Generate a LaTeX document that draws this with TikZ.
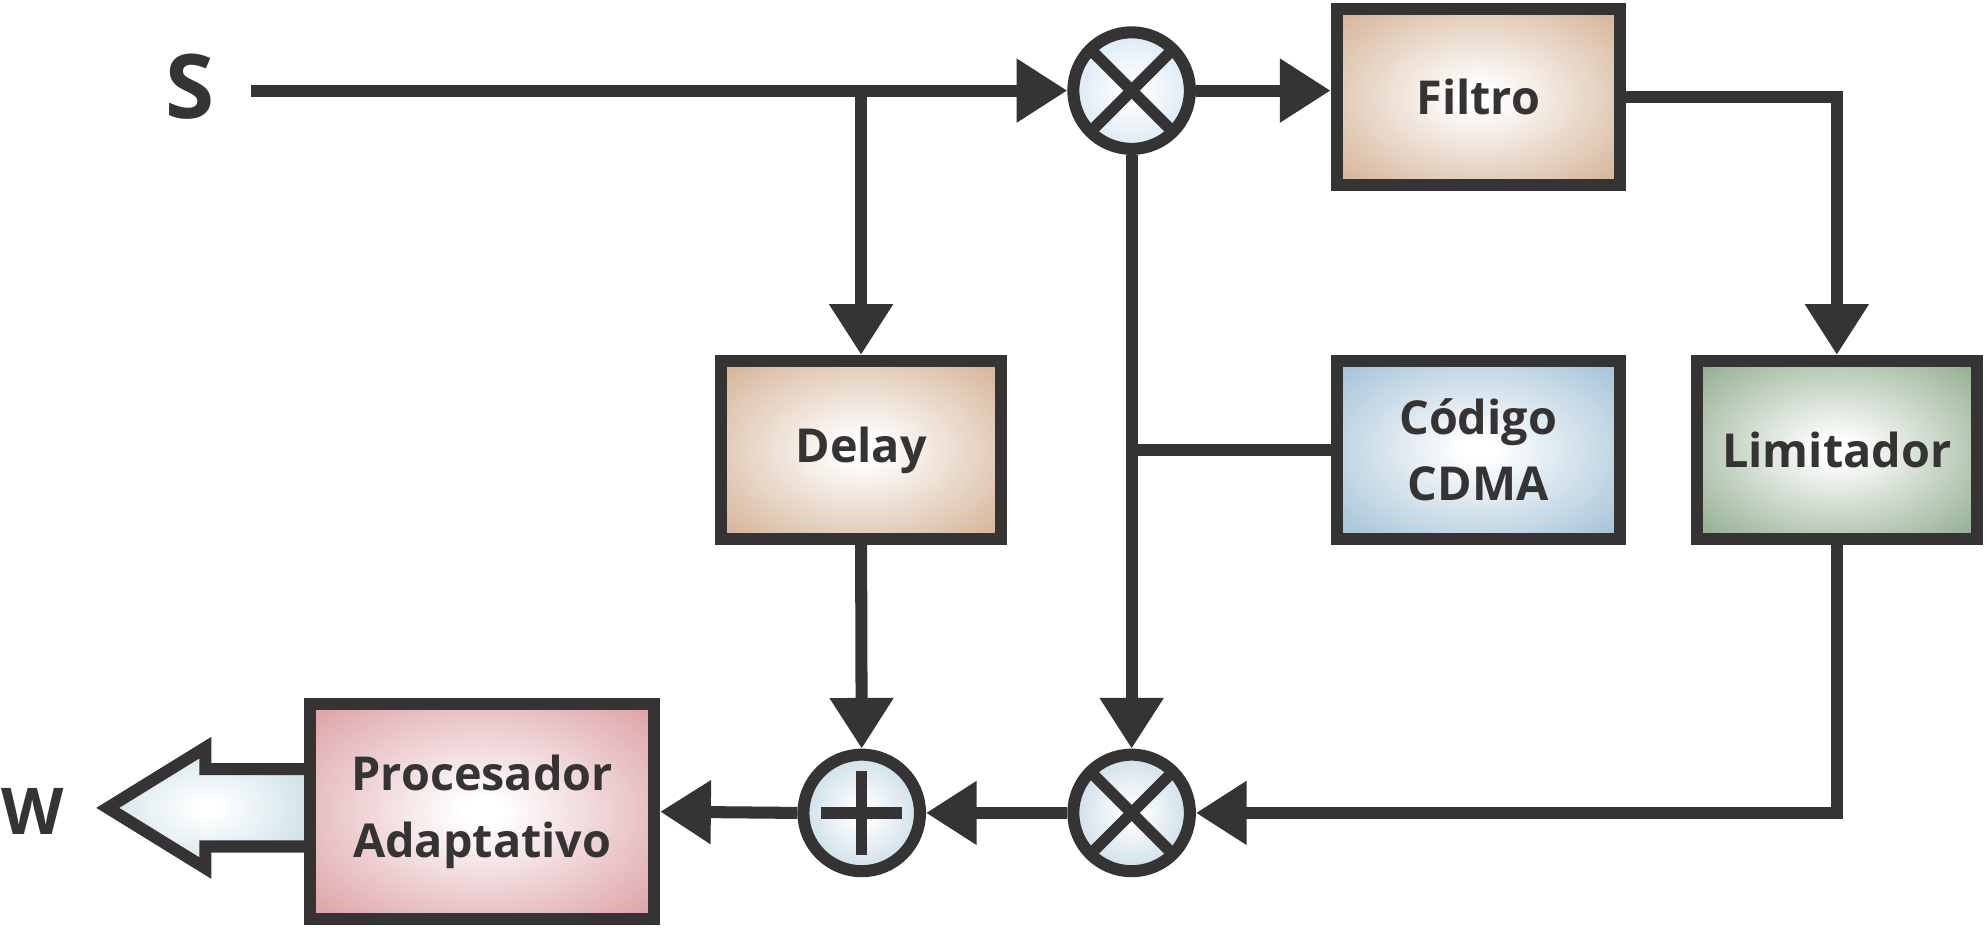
\documentclass[tikz,border=0pt]{standalone}
\usepackage{fontspec}
\setmainfont{Open Sans}
\usetikzlibrary{arrows.meta,shapes.geometric,calc}
\definecolor{ln}{HTML}{363334}
\definecolor{ctan}{HTML}{D6B69B}
\definecolor{cblue}{HTML}{A7C4D8}
\definecolor{cgreen}{HTML}{97B094}
\definecolor{cpink}{HTML}{DEA6AA}
\definecolor{cball}{HTML}{C9DCE7}
\definecolor{cballup}{HTML}{DAE7F5}
\definecolor{carrow}{HTML}{CADFE8}
\pgfdeclareradialshading{tanshade}{\pgfpoint{0bp}{0bp}}{color(0bp)=(white); color(3bp)=(white); color(33bp)=(ctan); color(50bp)=(ctan)}
\pgfdeclareradialshading{blueshade}{\pgfpoint{0bp}{0bp}}{color(0bp)=(white); color(3bp)=(white); color(33bp)=(cblue); color(50bp)=(cblue)}
\pgfdeclareradialshading{greenshade}{\pgfpoint{0bp}{0bp}}{color(0bp)=(white); color(3bp)=(white); color(33bp)=(cgreen); color(50bp)=(cgreen)}
\pgfdeclareradialshading{pinkshade}{\pgfpoint{0bp}{0bp}}{color(0bp)=(white); color(3bp)=(white); color(33bp)=(cpink); color(50bp)=(cpink)}
\pgfdeclareradialshading{ballshade}{\pgfpoint{0bp}{0bp}}{color(0bp)=(white); color(3bp)=(white); color(27bp)=(cball); color(50bp)=(cball)}
\pgfdeclareradialshading{ballupshade}{\pgfpoint{0bp}{0bp}}{color(0bp)=(white); color(3bp)=(white); color(27bp)=(cballup); color(50bp)=(cballup)}
\pgfdeclareradialshading{arrowshade}{\pgfpoint{0bp}{0bp}}{color(0bp)=(white); color(3bp)=(white); color(30bp)=(carrow); color(50bp)=(carrow)}
\tikzset{
  box/.style={rectangle, draw=ln, line width=0.19cm, inner sep=0pt, align=center,
    font=\fontsize{21}{30}\selectfont\bfseries, text=ln},
  tanbox/.style={box, shading=tanshade},
  bluebox/.style={box, shading=blueshade},
  greenbox/.style={box, shading=greenshade},
  pinkbox/.style={box, shading=pinkshade},
  op/.style={circle, draw=ln, line width=0.19cm, minimum size=1.84cm,
    inner sep=0pt, shading=ballshade},
  times/.style={op, path picture={
    \draw[ln, line width=0.18cm] (path picture bounding box.north west) -- (path picture bounding box.south east);
    \draw[ln, line width=0.18cm] (path picture bounding box.south west) -- (path picture bounding box.north east);}},
  plus/.style={op, path picture={
    \draw[ln, line width=0.18cm] ($(path picture bounding box.center)+(-0.64cm,0)$) -- ++(1.28cm,0);
    \draw[ln, line width=0.18cm] ($(path picture bounding box.center)+(0,-0.66cm)$) -- ++(0,1.32cm);}},
  wire/.style={draw=ln, line width=0.19cm},
  arr/.style={wire, -{Triangle[length=0.80cm,width=0.96cm]}},
  lbl/.style={text=ln, font=\bfseries, inner sep=0pt}
}
\begin{document}
\begin{tikzpicture}[x=0.02cm, y=-0.02cm]
\useasboundingbox (0,0) rectangle (1568,734);

% labels
\node[lbl, font=\fontsize{40}{42}\selectfont\bfseries] (S) at (150,68.5) {S};
\node[lbl, font=\fontsize{29}{31}\selectfont\bfseries] (W) at (26,640) {W};

% operators
\node[times, shading=ballupshade] (m1) at (893,71.5) {};
\node[times] (m2) at (893,641.5) {};
\node[plus] (add) at (680,641.5) {};

% boxes
\node[tanbox, minimum width=4.47cm, minimum height=2.79cm] (filtro) at (1166.5,76.5) {Filtro};
\node[tanbox, minimum width=4.43cm, minimum height=2.81cm] (delay) at (679.5,355) {Delay};
\node[bluebox, minimum width=4.47cm, minimum height=2.81cm] (cdma) at (1166.5,355) {Código\\CDMA};
\node[greenbox, minimum width=4.43cm, minimum height=2.81cm] (lim) at (1449.5,355) {Limitador};

% hollow output arrow (behind the processor box)
\coordinate (hw) at (240,637.5);
\shade[shading=arrowshade]
  ($(hw)+(0,-30.5)$) -- ($(hw)+(-78,-30.5)$) -- ($(hw)+(-78,-47.5)$) -- ($(hw)+(-155,0)$)
  -- ($(hw)+(-78,47.5)$) -- ($(hw)+(-78,30.5)$) -- ($(hw)+(0,30.5)$) -- cycle;
\draw[wire, line join=miter]
  ($(hw)+(0,-30.5)$) -- ($(hw)+(-78,-30.5)$) -- ($(hw)+(-78,-47.5)$) -- ($(hw)+(-155,0)$)
  -- ($(hw)+(-78,47.5)$) -- ($(hw)+(-78,30.5)$) -- ($(hw)+(0,30.5)$);
\node[pinkbox, minimum width=5.43cm, minimum height=3.39cm] (proc) at (380.5,640.5) {Procesador\\Adaptativo};

% connectors
\coordinate (s0) at (198,71.5);
\draw[arr] (s0) -- (m1.west);
\draw[arr] (delay.north |- m1.west) -- (delay.north);
\draw[arr] (m1.east) -- (m1.east -| filtro.west);
\draw[arr] (filtro.east) -| (lim.north);
\draw[arr] (m1.south) -- (m2.north);
\draw[wire] (cdma.west) -- (cdma.west -| m1.south);
\draw[arr] (lim.south) |- (m2.east);
\draw[arr] (m2.west) -- (add.east);
\draw[arr] (delay.south) -- (add.north);
\draw[arr] (add.west) -- (proc.east);
\end{tikzpicture}
\end{document}
